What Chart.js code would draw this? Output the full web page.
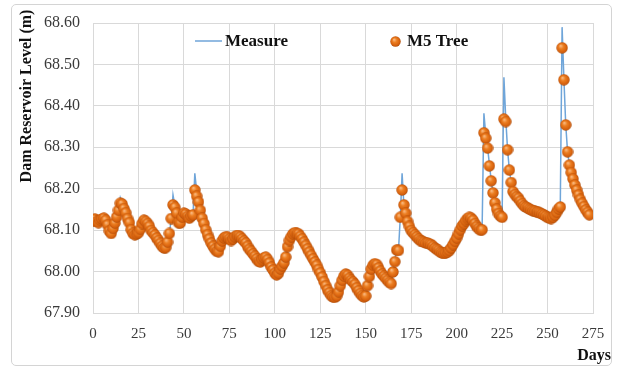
<!DOCTYPE html>
<html>
<head>
<meta charset="utf-8">
<script src="https://cdn.jsdelivr.net/npm/chart.js@4.4.0/dist/chart.umd.min.js"></script>
<style>
  body { margin: 0; background: #fff; }
  #wrap { position: relative; width: 617px; height: 369px; }
  #frame { position: absolute; left: 11px; top: 4px; width: 599px; height: 360px;
           border: 1px solid #d4d4d4; border-radius: 5px; pointer-events: none; }
</style>
</head>
<body>
<div id="wrap">
  <canvas id="chart"></canvas>
  <div id="frame"></div>
</div>
<script>
// measured reservoir level, one value per day (0..273)
const measure = [
  68.125, 68.125, 68.12, 68.12, 68.125, 68.125, 68.13, 68.125, 68.115, 68.10,
  68.09, 68.105, 68.115, 68.13, 68.15, 68.178, 68.165, 68.155, 68.145, 68.13,
  68.12, 68.10, 68.09, 68.088, 68.09, 68.092, 68.10, 68.115, 68.125, 68.12,
  68.117, 68.11, 68.10, 68.095, 68.09, 68.082, 68.076, 68.07, 68.062, 68.056,
  68.056, 68.07, 68.092, 68.125, 68.185, 68.16, 68.14, 68.12, 68.115, 68.13,
  68.14, 68.14, 68.135, 68.13, 68.133, 68.135, 68.237, 68.195, 68.172, 68.15,
  68.13, 68.117, 68.10, 68.09, 68.08, 68.07, 68.06, 68.055, 68.05, 68.048,
  68.06, 68.075, 68.08, 68.085, 68.084, 68.08, 68.076, 68.08, 68.085, 68.088,
  68.088, 68.085, 68.08, 68.075, 68.07, 68.062, 68.055, 68.05, 68.044, 68.038,
  68.032, 68.026, 68.022, 68.028, 68.034, 68.036, 68.03, 68.022, 68.012, 68.005,
  67.995, 67.99, 67.995, 68.005, 68.012, 68.02, 68.036, 68.062, 68.076, 68.085,
  68.092, 68.095, 68.093, 68.092, 68.086, 68.08, 68.072, 68.064, 68.056, 68.048,
  68.04, 68.032, 68.024, 68.016, 68.006, 67.996, 67.986, 67.975, 67.965, 67.955,
  67.948, 67.94, 67.938, 67.936, 67.94, 67.95, 67.965, 67.98, 67.99, 67.995,
  67.992, 67.985, 67.98, 67.976, 67.97, 67.962, 67.955, 67.948, 67.942, 67.938,
  67.94, 67.968, 67.99, 68.008, 68.016, 68.02, 68.018, 68.01, 68.002, 67.995,
  67.99, 67.985, 67.98, 67.975, 67.97, 68.0, 68.025, 68.055, 68.05, 68.13,
  68.237, 68.16, 68.14, 68.12, 68.11, 68.10, 68.095, 68.09, 68.085, 68.08,
  68.076, 68.074, 68.072, 68.07, 68.07, 68.068, 68.066, 68.062, 68.058, 68.055,
  68.052, 68.048, 68.045, 68.044, 68.044, 68.046, 68.05, 68.056, 68.064, 68.072,
  68.08, 68.09, 68.10, 68.11, 68.117, 68.125, 68.13, 68.133, 68.13, 68.125,
  68.117, 68.11, 68.105, 68.10, 68.10, 68.382, 68.33, 68.30, 68.26, 68.22,
  68.19, 68.168, 68.152, 68.14, 68.134, 68.13, 68.469, 68.37, 68.295, 68.245,
  68.215, 68.193, 68.185, 68.18, 68.178, 68.17, 68.165, 68.16, 68.157, 68.155,
  68.152, 68.15, 68.148, 68.146, 68.145, 68.144, 68.142, 68.14, 68.138, 68.135,
  68.132, 68.13, 68.128, 68.13, 68.135, 68.142, 68.15, 68.156, 68.59, 68.465,
  68.355, 68.29, 68.257, 68.24, 68.225, 68.21, 68.198, 68.186, 68.175, 68.166,
  68.158, 68.15, 68.144, 68.138
];

// M5 model tree prediction
const m5tree = [
  68.123, 68.127, 68.121, 68.118, 68.124, 68.127, 68.129, 68.124, 68.113, 68.098,
  68.092, 68.104, 68.117, 68.132, 68.148, 68.165, 68.163, 68.152, 68.142, 68.128,
  68.118, 68.101, 68.092, 68.089, 68.091, 68.094, 68.102, 68.116, 68.124, 68.121,
  68.116, 68.109, 68.099, 68.094, 68.088, 68.081, 68.075, 68.068, 68.061, 68.057,
  68.058, 68.071, 68.092, 68.128, 68.161, 68.155, 68.141, 68.118, 68.117, 68.131,
  68.141, 68.139, 68.133, 68.129, 68.134, 68.137, 68.197, 68.182, 68.168, 68.148,
  68.129, 68.116, 68.101, 68.089, 68.079, 68.069, 68.061, 68.054, 68.049, 68.048,
  68.061, 68.074, 68.081, 68.084, 68.083, 68.079, 68.075, 68.079, 68.084, 68.087,
  68.087, 68.084, 68.079, 68.074, 68.069, 68.061, 68.054, 68.049, 68.043, 68.037,
  68.031, 68.025, 68.023, 68.029, 68.033, 68.035, 68.029, 68.021, 68.011, 68.004,
  67.996, 67.992, 67.996, 68.006, 68.013, 68.021, 68.035, 68.06, 68.075, 68.084,
  68.091, 68.094, 68.092, 68.091, 68.085, 68.079, 68.071, 68.063, 68.055, 68.047,
  68.039, 68.031, 68.023, 68.015, 68.005, 67.997, 67.987, 67.976, 67.966, 67.956,
  67.949, 67.942, 67.939, 67.938, 67.941, 67.951, 67.966, 67.979, 67.989, 67.994,
  67.991, 67.984, 67.979, 67.975, 67.969, 67.961, 67.954, 67.947, 67.942, 67.939,
  67.941, 67.966, 67.988, 68.006, 68.015, 68.019, 68.017, 68.009, 68.001, 67.994,
  67.989, 67.984, 67.979, 67.974, 67.971, 67.999, 68.024, 68.052, 68.051, 68.131,
  68.197, 68.161, 68.141, 68.121, 68.109, 68.099, 68.094, 68.089, 68.084, 68.079,
  68.075, 68.073, 68.071, 68.069, 68.069, 68.067, 68.065, 68.061, 68.057, 68.054,
  68.051, 68.047, 68.045, 68.044, 68.045, 68.047, 68.051, 68.057, 68.065, 68.073,
  68.081, 68.091, 68.101, 68.11, 68.116, 68.123, 68.128, 68.131, 68.129, 68.124,
  68.116, 68.109, 68.104, 68.1, 68.101, 68.335, 68.322, 68.298, 68.255, 68.219,
  68.19, 68.166, 68.151, 68.14, 68.134, 68.131, 68.368, 68.362, 68.294, 68.245,
  68.215, 68.193, 68.186, 68.181, 68.177, 68.17, 68.164, 68.159, 68.156, 68.154,
  68.151, 68.149, 68.147, 68.146, 68.144, 68.143, 68.141, 68.139, 68.137, 68.134,
  68.131, 68.129, 68.128, 68.131, 68.136, 68.143, 68.151, 68.156, 68.54, 68.463,
  68.354, 68.289, 68.257, 68.239, 68.224, 68.209, 68.197, 68.185, 68.174, 68.165,
  68.157, 68.149, 68.143, 68.137
];

const xTicks = [0, 25, 50, 75, 100, 125, 150, 175, 200, 225, 250, 275];
const yTicks = [67.90, 68.00, 68.10, 68.20, 68.30, 68.40, 68.50, 68.60];

const serif = '"Liberation Serif", "Times New Roman", serif';
const lineColor = '#6fa5d9';

// orange ball used for the M5 points
function makeBall(size) {
  const c = document.createElement('canvas');
  c.width = c.height = size;
  const g = c.getContext('2d');
  const r = size / 2;
  const grad = g.createRadialGradient(r * 0.75, r * 0.65, 0.5, r, r, r);
  grad.addColorStop(0, '#f9b57a');
  grad.addColorStop(0.35, '#ec7f22');
  grad.addColorStop(0.8, '#d55f0c');
  grad.addColorStop(1, '#a34808');
  g.fillStyle = grad;
  g.beginPath();
  g.arc(r, r, r - 0.3, 0, Math.PI * 2);
  g.fill();
  return c;
}
const ball = makeBall(12);

const pts = arr => arr.map((v, i) => ({ x: i, y: v }));

const extras = {
  id: 'extras',
  afterDraw(chart) {
    const ctx = chart.ctx;
    ctx.save();
    ctx.fillStyle = '#111';
    ctx.textBaseline = 'middle';
    // legend
    ctx.strokeStyle = lineColor;
    ctx.lineWidth = 1.5;
    ctx.beginPath();
    ctx.moveTo(195, 41);
    ctx.lineTo(222, 41);
    ctx.stroke();
    ctx.font = 'bold 17px ' + serif;
    ctx.textAlign = 'left';
    ctx.fillText('Measure', 225, 42);
    ctx.drawImage(makeBall(11), 390, 36);
    ctx.fillText('M5 Tree', 407, 42);
    // axis titles
    ctx.font = 'bold 16px ' + serif;
    ctx.textAlign = 'right';
    ctx.fillText('Days', 611, 356);
    ctx.translate(27, 96);
    ctx.rotate(-Math.PI / 2);
    ctx.textAlign = 'center';
    ctx.fillText('Dam Reservoir Level (m)', 0, 0);
    ctx.restore();
  }
};

new Chart(document.getElementById('chart'), {
  type: 'line',
  data: {
    datasets: [
      {
        label: 'Measure',
        data: pts(measure),
        borderColor: lineColor,
        borderWidth: 1.5,
        pointRadius: 0,
        tension: 0,
        order: 2
      },
      {
        label: 'M5 Tree',
        data: pts(m5tree),
        showLine: false,
        pointStyle: ball,
        pointRadius: 6,
        order: 1
      }
    ]
  },
  options: {
    responsive: true,
    maintainAspectRatio: false,
    animation: false,
    layout: { padding: { top: 23, right: 24, left: 0, bottom: 0 } },
    plugins: { legend: { display: false }, tooltip: { enabled: false } },
    scales: {
      x: {
        type: 'linear',
        min: 0,
        max: 275,
        afterBuildTicks: s => { s.ticks = xTicks.map(v => ({ value: v })); },
        afterFit: s => { s.height = 56; },
        grid: { color: '#d9d9d9', drawTicks: false },
        border: { color: '#d9d9d9' },
        ticks: { padding: 12, color: '#3a3a3a', font: { family: serif, size: 15 } }
      },
      y: {
        min: 67.9,
        max: 68.6,
        afterBuildTicks: s => { s.ticks = yTicks.map(v => ({ value: v })); },
        afterFit: s => { s.width = 93; },
        grid: { color: '#d9d9d9', drawTicks: false },
        border: { color: '#d9d9d9' },
        ticks: {
          padding: 13,
          color: '#3a3a3a',
          font: { family: serif, size: 16 },
          callback: v => v.toFixed(2)
        }
      }
    }
  },
  plugins: [extras]
});
</script>
</body>
</html>
